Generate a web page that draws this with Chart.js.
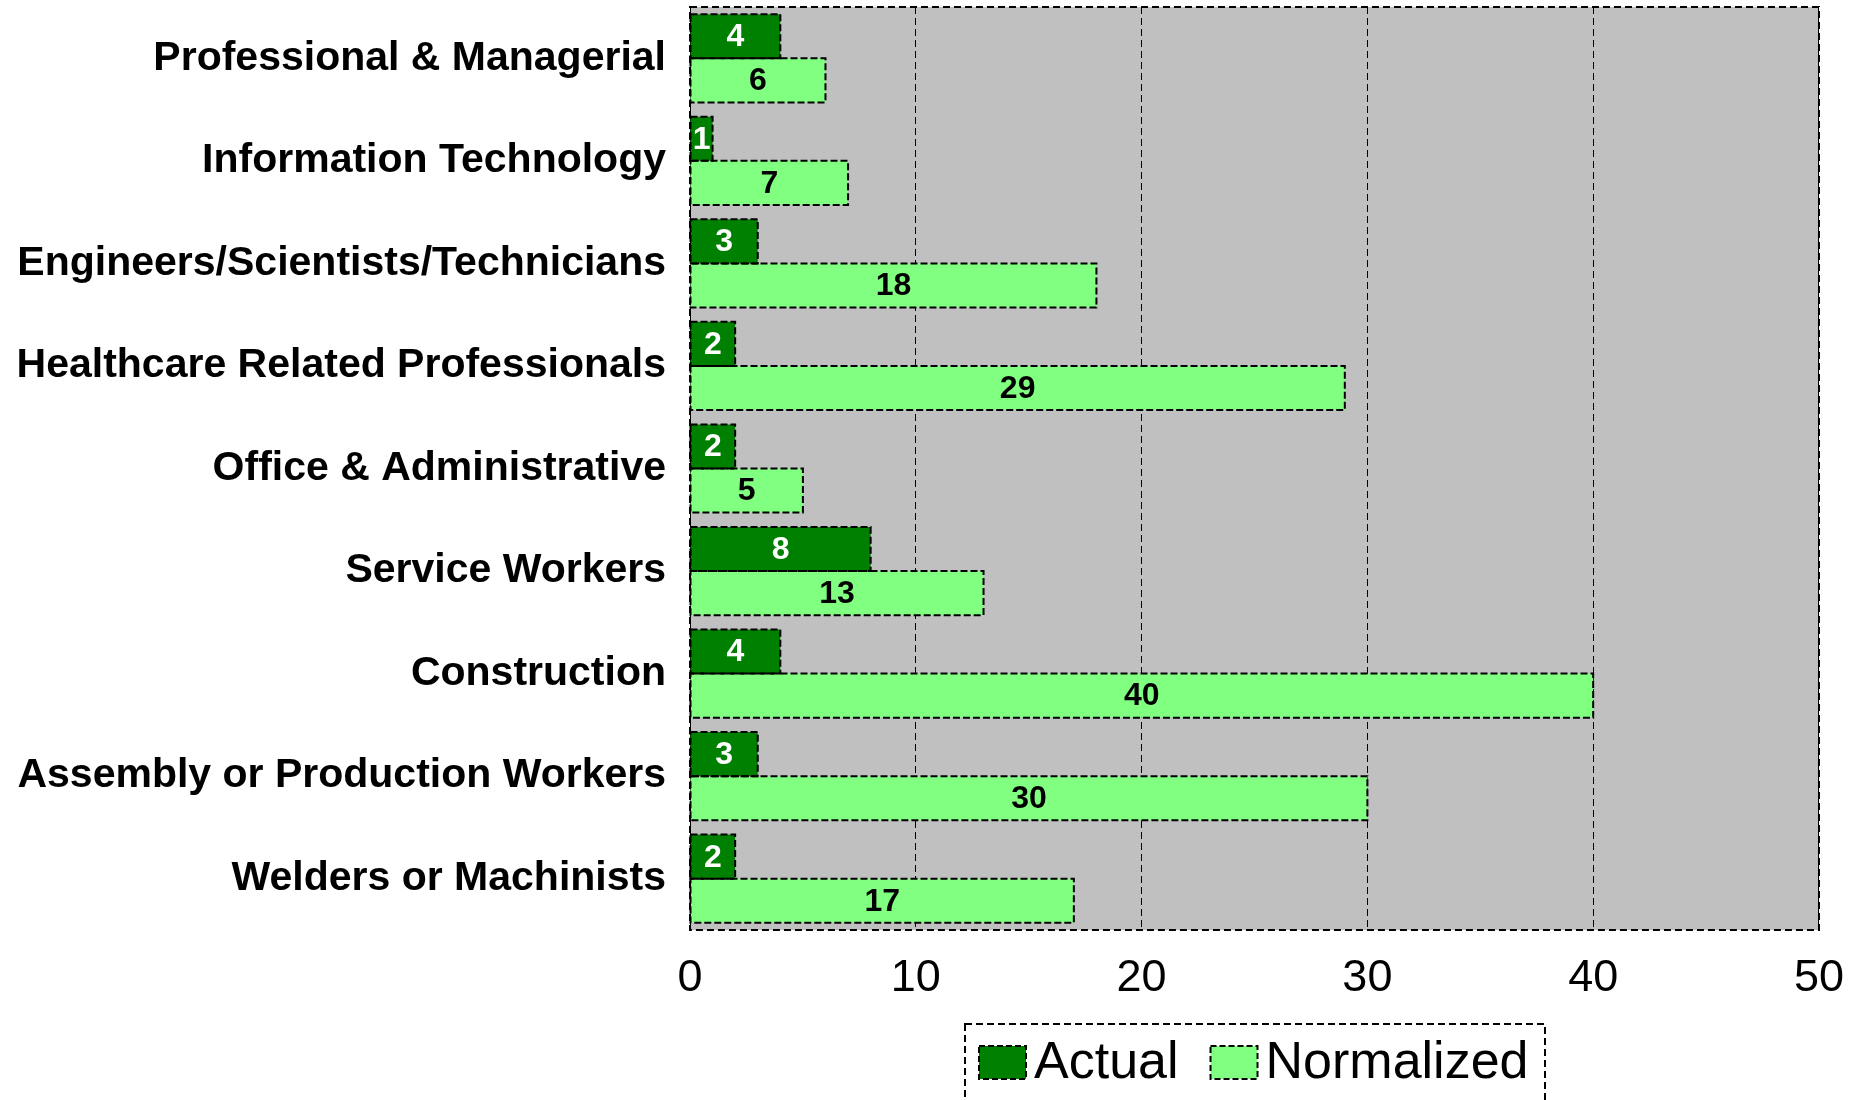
<!DOCTYPE html>
<html>
<head>
    <meta http-equiv="Content-Type" content="text/html; charset=utf-8"/>
    <title>Occupations</title>
    <style>
        body { margin: 0; background: #fff; }
    </style>
</head>
<body>
    <canvas id="myChart" width="1866" height="1100"></canvas>
    <script src="https://cdn.jsdelivr.net/npm/chart.js"></script>
    <script>
        const categories = [
            'Professional & Managerial',
            'Information Technology',
            'Engineers/Scientists/Technicians',
            'Healthcare Related Professionals',
            'Office & Administrative',
            'Service Workers',
            'Construction',
            'Assembly or Production Workers',
            'Welders or Machinists'
        ];
        const actual = [4, 1, 3, 2, 2, 8, 4, 3, 2];
        const normalized = [6, 7, 18, 29, 5, 13, 40, 30, 17];
        const xTicks = [0, 10, 20, 30, 40, 50];

        const FONT = '"Liberation Sans", Arial, sans-serif';
        const labelColors = ['#ffffff', '#000000'];

        // gray plot background
        const plotBg = {
            id: 'plotBg',
            beforeDraw(chart) {
                const {ctx, chartArea: a} = chart;
                ctx.save();
                ctx.fillStyle = '#c0c0c0';
                ctx.fillRect(a.left, a.top, a.right - a.left, a.bottom - a.top);
                ctx.restore();
            }
        };

        // dashed outlines + value labels on bars, dashed frame, legend
        const decorations = {
            id: 'decorations',
            afterDatasetsDraw(chart) {
                const ctx = chart.ctx;
                ctx.save();
                chart.data.datasets.forEach((ds, i) => {
                    const meta = chart.getDatasetMeta(i);
                    meta.data.forEach((bar, j) => {
                        const p = bar.getProps(['x', 'y', 'base', 'height'], true);
                        const left = Math.min(p.base, p.x);
                        const right = Math.max(p.base, p.x);
                        ctx.setLineDash([7, 3]);
                        ctx.lineWidth = 2;
                        ctx.strokeStyle = '#000';
                        ctx.strokeRect(left, p.y - p.height / 2, right - left, p.height);
                        ctx.setLineDash([]);
                        ctx.fillStyle = labelColors[i];
                        ctx.font = 'bold 32px ' + FONT;
                        ctx.textAlign = 'center';
                        ctx.textBaseline = 'middle';
                        ctx.fillText(ds.data[j], (left + right) / 2, p.y + 1);
                    });
                });
                const a = chart.chartArea;
                ctx.setLineDash([7, 4]);
                ctx.lineWidth = 2;
                ctx.strokeStyle = '#000';
                ctx.strokeRect(a.left, a.top, a.right - a.left, a.bottom - a.top);
                ctx.restore();
            },
            afterDraw(chart) {
                const ctx = chart.ctx;
                ctx.save();
                // legend frame
                ctx.setLineDash([7, 4]);
                ctx.lineWidth = 2;
                ctx.strokeStyle = '#000';
                ctx.strokeRect(965, 1024, 580, 100);
                // legend items
                let x = 979;
                const yMid = 1062;
                ctx.font = '52px ' + FONT;
                ctx.textBaseline = 'middle';
                ctx.textAlign = 'left';
                chart.data.datasets.forEach((ds) => {
                    ctx.fillStyle = ds.backgroundColor;
                    ctx.fillRect(x, yMid - 16, 47, 33);
                    ctx.setLineDash([6, 3]);
                    ctx.strokeRect(x, yMid - 16, 47, 33);
                    ctx.fillStyle = '#000';
                    ctx.fillText(ds.label, x + 55, yMid + 2);
                    x += 55 + ctx.measureText(ds.label).width + 32;
                });
                ctx.restore();
            }
        };

        const config = {
            type: 'bar',
            data: {
                labels: categories,
                datasets: [
                    {
                        label: 'Actual',
                        data: actual,
                        backgroundColor: '#008000',
                        borderWidth: 0
                    },
                    {
                        label: 'Normalized',
                        data: normalized,
                        backgroundColor: '#80ff80',
                        borderWidth: 0
                    }
                ]
            },
            options: {
                indexAxis: 'y',
                responsive: false,
                animation: false,
                categoryPercentage: 0.86,
                barPercentage: 1.0,
                layout: {
                    padding: {top: 7, right: 46, bottom: 80, left: 0}
                },
                plugins: {
                    legend: {display: false},
                    tooltip: {enabled: false}
                },
                scales: {
                    x: {
                        min: 0,
                        max: 50,
                        afterBuildTicks(scale) {
                            scale.ticks = xTicks.map(v => ({value: v}));
                        },
                        afterFit(scale) {
                            scale.height = 90;
                        },
                        grid: {
                            color: '#000',
                            lineWidth: 1,
                            drawTicks: false
                        },
                        border: {display: false, dash: [7, 4]},
                        ticks: {
                            color: '#000',
                            padding: 22,
                            font: {family: FONT, size: 45}
                        }
                    },
                    y: {
                        afterFit(scale) {
                            scale.width = 690;
                            scale.paddingTop = 0;
                            scale.paddingBottom = 0;
                        },
                        grid: {display: false},
                        border: {display: false},
                        ticks: {
                            color: '#000',
                            padding: 16,
                            font: {family: FONT, size: 41, weight: 'bold'}
                        }
                    }
                }
            },
            plugins: [plotBg, decorations]
        };

        const myChart = new Chart(document.getElementById('myChart'), config);
    </script>
</body>
</html>
